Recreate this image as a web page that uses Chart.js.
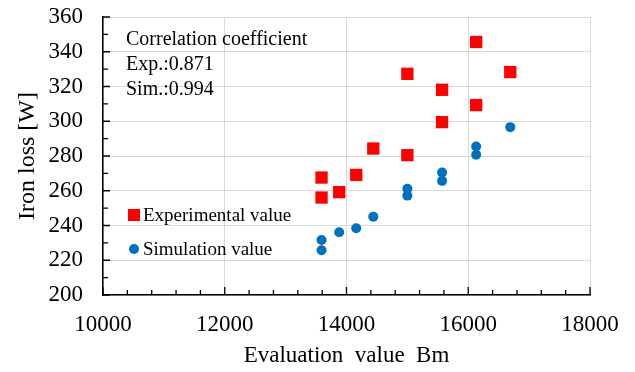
<!DOCTYPE html>
<html>
<head>
<meta charset="utf-8">
<script src="https://cdn.jsdelivr.net/npm/chart.js@4.4.0/dist/chart.umd.min.js"></script>
<style>
html, body { margin: 0; padding: 0; background: #fff; }
#contenedor { width: 635px; height: 372px; }
</style>
</head>
<body>
<div id="contenedor"><canvas id="miGrafico" width="635" height="372"></canvas></div>
<script>
// Datos: valor de evaluación Bm (eje x) y pérdida en el hierro [W] (eje y)
var bmExperimental = [13590, 13590, 13880, 14160, 14440, 15000, 15000, 15570, 15570, 16130, 16130, 16690];
var perdidaExperimental = [267.6, 256.1, 259.2, 269.1, 284.3, 327.3, 280.5, 318.1, 299.5, 345.6, 309.3, 328.3];
var bmSimulacion = [13590, 13590, 13880, 14160, 14440, 15000, 15000, 15570, 15570, 16130, 16130, 16690];
var perdidaSimulacion = [231.7, 225.8, 236.1, 238.4, 245.1, 261.1, 257.2, 270.5, 265.7, 285.5, 280.7, 296.6];

var ticksX = [10000, 12000, 14000, 16000, 18000];
var ticksY = [200, 220, 240, 260, 280, 300, 320, 340, 360];
var nombresSeries = ["Experimental value", "Simulation value"];
var textoCoeficiente = ["Correlation coefficient", "Exp.:0.871", "Sim.:0.994"];
var tituloX = "Evaluation  value  Bm";
var tituloY = "Iron loss [W]";

var fuente = "'Liberation Serif', 'Times New Roman', serif";
var rojo = "#FF0000";
var azul = "#0070C0";

function puntos(xs, ys) {
    var lista = [];
    for (var i = 0; i < xs.length; i++) {
        lista.push({ x: xs[i], y: ys[i] });
    }
    return lista;
}

// Marcas de graduación hacia adentro (mayores y menores), como en el original
var marcasInternas = {
    id: "marcasInternas",
    beforeDatasetsDraw: function(chart) {
        var ctx = chart.ctx;
        var ejeX = chart.scales.x;
        var ejeY = chart.scales.y;
        var area = chart.chartArea;
        ctx.save();
        ctx.strokeStyle = "#000";
        ctx.lineWidth = 1.3;
        ctx.beginPath();
        for (var i = 0; i < ticksX.length; i++) {
            var px = ejeX.getPixelForValue(ticksX[i]);
            ctx.moveTo(px, area.bottom);
            ctx.lineTo(px, area.bottom - 8);
            if (i < ticksX.length - 1) {
                var paso = (ticksX[i + 1] - ticksX[i]) / 5;
                for (var k = 1; k < 5; k++) {
                    var pm = ejeX.getPixelForValue(ticksX[i] + paso * k);
                    ctx.moveTo(pm, area.bottom);
                    ctx.lineTo(pm, area.bottom - 5);
                }
            }
        }
        for (var j = 0; j < ticksY.length; j++) {
            var py = ejeY.getPixelForValue(ticksY[j]);
            ctx.moveTo(area.left, py);
            ctx.lineTo(area.left + 7, py);
            if (j < ticksY.length - 1) {
                var medio = ejeY.getPixelForValue((ticksY[j] + ticksY[j + 1]) / 2);
                ctx.moveTo(area.left, medio);
                ctx.lineTo(area.left + 5, medio);
            }
        }
        ctx.stroke();
        ctx.restore();
    }
};

// Leyenda y texto del coeficiente de correlación dentro del área del gráfico
var textosInternos = {
    id: "textosInternos",
    afterDatasetsDraw: function(chart) {
        var ctx = chart.ctx;
        ctx.save();
        ctx.fillStyle = "#000";
        ctx.textBaseline = "alphabetic";
        ctx.textAlign = "left";
        ctx.font = "20px " + fuente;
        for (var i = 0; i < textoCoeficiente.length; i++) {
            ctx.fillText(textoCoeficiente[i], 126, 45 + i * 25);
        }

        ctx.font = "19px " + fuente;
        ctx.fillStyle = rojo;
        ctx.fillRect(128, 209, 12, 12);
        ctx.fillStyle = "#000";
        ctx.fillText(nombresSeries[0], 143, 221);

        ctx.fillStyle = azul;
        ctx.beginPath();
        ctx.arc(134, 249, 5, 0, Math.PI * 2);
        ctx.fill();
        ctx.fillStyle = "#000";
        ctx.fillText(nombresSeries[1], 143, 255);
        ctx.restore();
    }
};

var ctx = document.getElementById("miGrafico").getContext("2d");
new Chart(ctx, {
    type: "scatter",
    data: {
        datasets: [
            {
                label: nombresSeries[0],
                data: puntos(bmExperimental, perdidaExperimental),
                pointStyle: "rect",
                pointRadius: 8.7,
                backgroundColor: rojo,
                borderWidth: 0
            },
            {
                label: nombresSeries[1],
                data: puntos(bmSimulacion, perdidaSimulacion),
                pointStyle: "circle",
                pointRadius: 5,
                backgroundColor: azul,
                borderWidth: 0
            }
        ]
    },
    options: {
        responsive: false,
        animation: false,
        layout: { padding: { left: 0, right: 45, top: 17, bottom: 0 } },
        plugins: {
            legend: { display: false },
            tooltip: { enabled: false }
        },
        scales: {
            x: {
                type: "linear",
                min: 10000,
                max: 18000,
                afterBuildTicks: function(eje) {
                    eje.ticks = ticksX.map(function(v) { return { value: v }; });
                },
                afterFit: function(eje) {
                    eje.height = 77;
                    eje.paddingLeft = 0;
                    eje.paddingRight = 0;
                },
                grid: { color: "#d9d9d9", lineWidth: 1, drawTicks: false },
                border: { color: "#000", width: 1.5 },
                ticks: {
                    padding: 16,
                    color: "#000",
                    font: { family: fuente, size: 23 },
                    maxRotation: 0,
                    autoSkip: false,
                    callback: function(v) { return String(v); }
                },
                title: {
                    display: true,
                    text: tituloX,
                    color: "#000",
                    font: { family: fuente, size: 23 },
                    padding: { top: 0, bottom: 2 }
                }
            },
            y: {
                type: "linear",
                min: 200,
                max: 360,
                afterBuildTicks: function(eje) {
                    eje.ticks = ticksY.map(function(v) { return { value: v }; });
                },
                afterFit: function(eje) {
                    eje.width = 103;
                    eje.paddingTop = 0;
                    eje.paddingBottom = 0;
                },
                grid: { color: "#d9d9d9", lineWidth: 1, drawTicks: false },
                border: { color: "#000", width: 1.5 },
                ticks: {
                    padding: 20,
                    color: "#000",
                    font: { family: fuente, size: 23 },
                    autoSkip: false,
                    callback: function(v) { return String(v); }
                },
                title: {
                    display: true,
                    text: tituloY,
                    color: "#000",
                    font: { family: fuente, size: 24 },
                    padding: { top: 13, bottom: 0 }
                }
            }
        }
    },
    plugins: [marcasInternas, textosInternos]
});
</script>
</body>
</html>
